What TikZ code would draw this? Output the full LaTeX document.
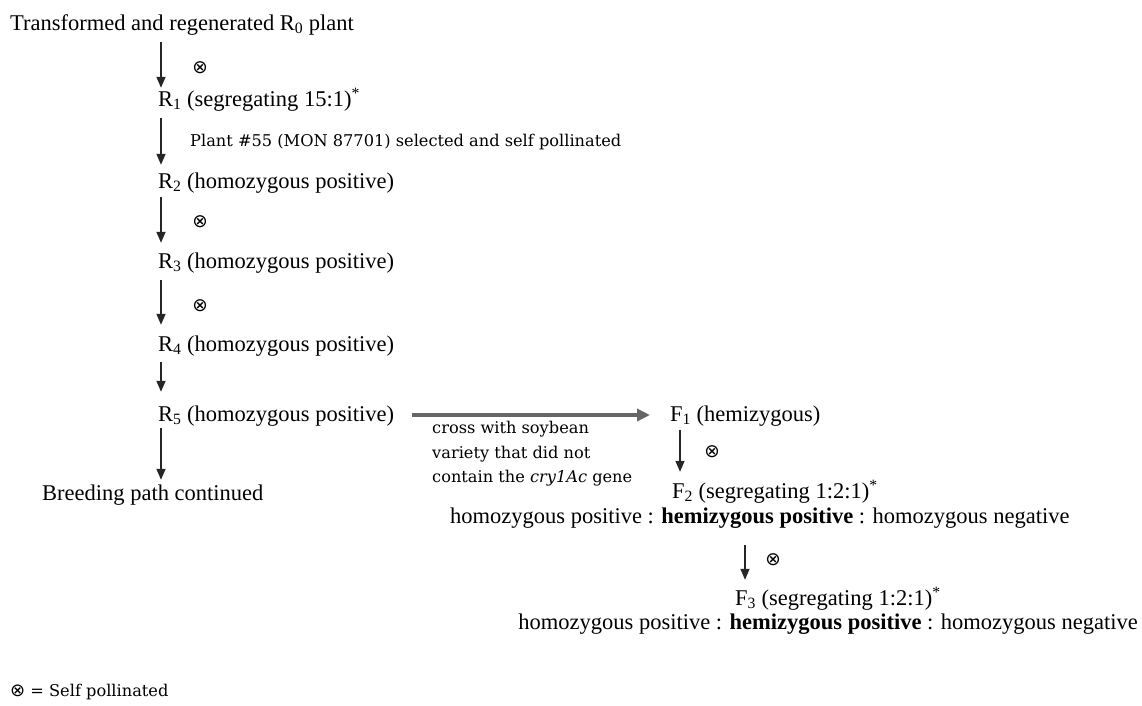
\documentclass[tikz,border=0pt]{standalone}
\usepackage{fontspec}
\setmainfont{Liberation Serif}
\newfontfamily\labfont{DejaVu Serif}
\newfontfamily\symfont{DejaVu Sans}
\usetikzlibrary{arrows.meta}
\begin{document}
\begin{tikzpicture}[x=1pt,y=-1pt,
  txt/.style={anchor=west,inner sep=0pt,font=\fontsize{22.5}{26}\selectfont,text height=17pt,text depth=4pt},
  lab/.style={anchor=west,inner sep=0pt,font=\labfont\fontsize{16.2}{24.5}\selectfont},
  selfmark/.style={inner sep=0pt,font=\symfont\fontsize{18.5}{18.5}\selectfont},
  varr/.style={draw=black!85,line width=1.5pt,-{Triangle[length=11pt,width=9pt]}},
  harr/.style={draw=black!60,line width=4pt,-{Triangle[length=13pt,width=12pt]}}
]
\useasboundingbox (0,0) rectangle (1142,706);
\coordinate (colR) at (161,0);
\coordinate (colFa) at (680,0);
\coordinate (colFb) at (745,0);

\node[txt] (r0) at (10,24) {Transformed and regenerated R\textsubscript{0} plant};
\node[txt] (r1) at (158,100) {R\textsubscript{1} (segregating 15:1)\textsuperscript{*}};
\node[txt] (r2) at (158,182) {R\textsubscript{2} (homozygous positive)};
\node[txt] (r3) at (158,262) {R\textsubscript{3} (homozygous positive)};
\node[txt] (r4) at (158,345) {R\textsubscript{4} (homozygous positive)};
\node[txt] (r5) at (158,415) {R\textsubscript{5} (homozygous positive)};
\node[txt] (bpc) at (42,494) {Breeding path continued};

\node[selfmark] (s1) at (200,68) {⊗};
\node[lab] (l2) at (190,142) {Plant \#55 (MON 87701) selected and self pollinated};
\node[selfmark] (s3) at (200,222) {⊗};
\node[selfmark] (s4) at (200,306) {⊗};

\draw[varr] ([shift={(0,7.5)}]r0.south -| colR) -- ([shift={(0,-1.5)}]r1.north -| colR);
\draw[varr] ([shift={(0,7.5)}]r1.south -| colR) -- ([shift={(0,-6.5)}]r2.north -| colR);
\draw[varr] ([shift={(0,4.5)}]r2.south -| colR) -- ([shift={(0,-8.5)}]r3.north -| colR);
\draw[varr] ([shift={(0,7.5)}]r3.south -| colR) -- ([shift={(0,-9.5)}]r4.north -| colR);
\draw[varr] ([shift={(0,6.5)}]r4.south -| colR) -- ([shift={(0,-12.5)}]r5.north -| colR);
\draw[varr] ([shift={(0,2.5)}]r5.south -| colR) -- ([shift={(0,-3.5)}]bpc.north -| colR);

\node[txt] (f1) at (670,415) {F\textsubscript{1} (hemizygous)};
\draw[harr,shorten <=18pt,shorten >=20pt] (r5.east) -- (f1.west);
\node[lab,anchor=north west,align=left] (cross) at (432,421)
  {cross with soybean\\variety that did not\\contain the \textit{cry1Ac} gene};

\node[txt] (f2) at (672,492) {F\textsubscript{2} (segregating 1:2:1)\textsuperscript{*}};
\node[txt] (f2l) at (450,517) {homozygous positive : \textbf{hemizygous positive} : homozygous negative};
\node[selfmark] (s5) at (712,452) {⊗};
\draw[varr] ([shift={(0,4.5)}]f1.south -| colFa) -- ([shift={(0,-9.5)}]f2.north -| colFa);

\node[txt] (f3) at (735,599) {F\textsubscript{3} (segregating 1:2:1)\textsuperscript{*}};
\node[txt,anchor=east] (f3l) at (1138,623) {homozygous positive : \textbf{hemizygous positive} : homozygous negative};
\node[selfmark] (s6) at (773,560) {⊗};
\draw[varr] ([shift={(0,17.5)}]f2l.south -| colFb) -- ([shift={(0,-8.5)}]f3.north -| colFb);

\node[lab] (legend) at (10,692) {{\symfont\fontsize{18}{18}\selectfont ⊗} = Self pollinated};
\end{tikzpicture}
\end{document}
